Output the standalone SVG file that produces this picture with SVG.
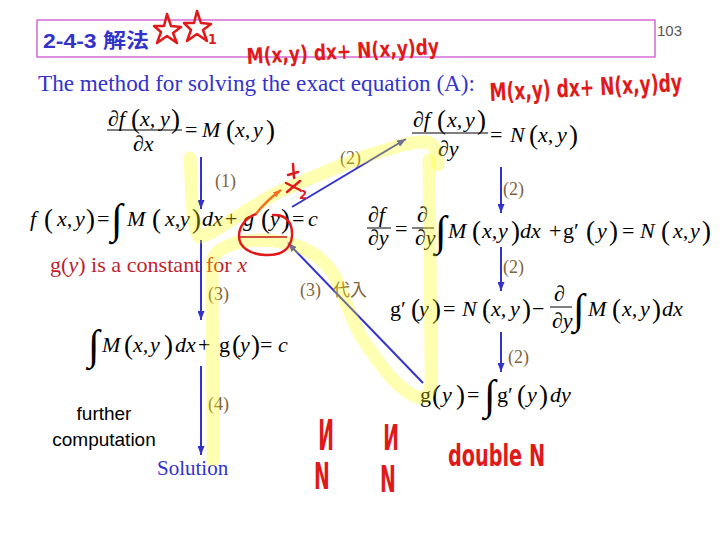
<svg xmlns="http://www.w3.org/2000/svg" width="720" height="540" viewBox="0 0 720 540">
<defs>
<marker id="ah" markerUnits="userSpaceOnUse" markerWidth="9" markerHeight="7" refX="9" refY="3.5" orient="auto"><path d="M0,0 L9,3.5 L0,7 z" fill="#3333cc"/></marker>
<marker id="ao" markerUnits="userSpaceOnUse" markerWidth="8" markerHeight="6" refX="8" refY="3" orient="auto"><path d="M0,0 L8,3 L0,6 z" fill="#f07020"/></marker>
<style>
text{font-family:"Liberation Serif",serif}
.sans{font-family:"Liberation Sans","Noto Sans CJK TC",sans-serif}
.m{font-size:22px;fill:#000}
.i{font-style:italic}
.p{font-size:27px;font-style:normal}
.int{font-size:42px;font-style:normal}
.lbl{font-size:18px;fill:#806440}
.cjk{font-family:"Noto Sans CJK TC",sans-serif}
.arr{stroke:#3333cc;stroke-width:2;fill:none;marker-end:url(#ah)}
.bar{stroke:#000;stroke-width:1}
.hw{font-family:"Liberation Sans Narrow","DejaVu Sans Condensed",sans-serif;fill:#e01a1a}
.red{stroke:#e01a1a;stroke-width:2.5;fill:none;stroke-linecap:round;stroke-linejoin:round}
.hl{stroke:#ffff00;stroke-opacity:0.3;stroke-width:13;fill:none;stroke-linecap:round;stroke-linejoin:round}
</style>
</defs>
<rect width="720" height="540" fill="#fff"/>

<g id="header">
<rect x="37" y="20" width="618" height="37" fill="none" stroke="#cc44cc" stroke-width="1.2"/>
<text class="sans" x="43" y="48" font-weight="bold" font-size="20" fill="#3333cc" textLength="106" lengthAdjust="spacingAndGlyphs">2-4-3 解法</text>
<text x="657" y="36" font-size="15" fill="#555" style="font-family:'Liberation Sans',sans-serif">103</text>
</g>

<g id="title">
<text x="38" y="91" font-size="23" fill="#3333cc" textLength="437" lengthAdjust="spacingAndGlyphs">The method for solving the exact equation (A):</text>
</g>

<g id="annotations-red">
<path class="red" d="M167,14 L171,26 L181,27 L173,33 L177,43 L167,36 L157,43 L161,32 L154,26 L164,26 Z"/>
<path class="red" d="M197,11 L201,23 L211,24 L203,30 L207,41 L197,34 L187,41 L191,30 L184,23 L194,23 Z"/>
<text class="hw" x="208" y="44" font-size="14" font-weight="bold">1</text>
<text class="hw" x="0" y="0" font-size="19" font-weight="bold" transform="translate(247,64) rotate(-3) scale(1,1.15)">M(x,y) dx+ N(x,y)dy</text>
<text class="hw" x="0" y="0" font-size="19" font-weight="bold" transform="translate(490,101) rotate(-3) scale(1,1.3)">M(x,y) dx+ N(x,y)dy</text>
<text class="hw" x="448" y="466" font-size="30" font-weight="bold" textLength="97" lengthAdjust="spacingAndGlyphs">double N</text>
<text class="hw" x="0" y="0" font-size="30" font-weight="bold" transform="translate(334,450) scale(-0.7,1.4)">N</text>
<text class="hw" x="0" y="0" font-size="30" font-weight="bold" transform="translate(314,489) scale(0.7,1.25)">N</text>
<text class="hw" x="0" y="0" font-size="30" font-weight="bold" transform="translate(399,450) scale(-0.7,1.2)">N</text>
<text class="hw" x="0" y="0" font-size="30" font-weight="bold" transform="translate(380,492) scale(0.7,1.25)">N</text>
</g>

<g id="eq-fx">
<text class="m i" x="108" y="126">∂f</text>
<text class="m p" x="131" y="128" font-size="24">(</text>
<text class="m i" x="140" y="126">x,</text>
<text class="m i" x="160" y="126">y</text>
<text class="m p" x="171" y="128" font-size="24">)</text>
<line class="bar" x1="107" y1="130" x2="182" y2="130"/>
<text class="m i" x="133" y="151">∂x</text>
<text class="m" x="185" y="137">=</text>
<text class="m i" x="202" y="137">M</text>
<text class="m p" x="226" y="139">(</text>
<text class="m i" x="235" y="137">x,</text>
<text class="m i" x="253" y="137">y</text>
<text class="m p" x="266" y="139">)</text>
</g>

<g id="eq-fy">
<text class="m i" x="413" y="127">∂f</text>
<text class="m p" x="437" y="129" font-size="24">(</text>
<text class="m i" x="447" y="127">x,</text>
<text class="m i" x="465" y="127">y</text>
<text class="m p" x="477" y="129" font-size="24">)</text>
<line class="bar" x1="412" y1="133" x2="488" y2="133"/>
<text class="m i" x="438" y="156">∂y</text>
<text class="m" x="490" y="142">=</text>
<text class="m i" x="510" y="142">N</text>
<text class="m p" x="529" y="144">(</text>
<text class="m i" x="538" y="142">x,</text>
<text class="m i" x="557" y="142">y</text>
<text class="m p" x="569" y="144">)</text>
</g>

<g id="eq-f">
<text class="m" y="226"><tspan class="i" x="30">f</tspan><tspan class="p" x="44" y="228">(</tspan><tspan class="i" x="57" y="226">x,</tspan><tspan class="i" x="75">y</tspan><tspan class="p" x="86" y="228">)</tspan><tspan x="97" y="226">=</tspan><tspan class="int" x="111" y="233">∫</tspan><tspan class="i" x="127" y="226">M</tspan><tspan class="p" x="152" y="228">(</tspan><tspan class="i" x="165" y="226">x,</tspan><tspan class="i" x="180">y</tspan><tspan class="p" x="192" y="228">)</tspan><tspan class="i" x="202" y="226">dx</tspan><tspan x="225">+</tspan><tspan class="i" x="243">g</tspan><tspan class="p" x="261" y="228">(</tspan><tspan class="i" x="270" y="226">y</tspan><tspan class="p" x="281" y="228">)</tspan><tspan x="292" y="226">=</tspan><tspan class="i" x="308">c</tspan></text>
</g>

<g id="note-const">
<text x="50" y="272" font-size="22" fill="#bf1e2e" textLength="197" lengthAdjust="spacingAndGlyphs">g(<tspan font-style="italic">y</tspan>) is a constant for <tspan font-style="italic">x</tspan></text>
</g>

<g id="eq-dfdy">
<text class="m i" x="368" y="222">∂f</text>
<line class="bar" x1="367" y1="228" x2="391" y2="228"/>
<text class="m i" x="368" y="245">∂y</text>
<text class="m" x="395" y="236">=</text>
<text class="m i" x="417" y="222">∂</text>
<line class="bar" x1="412" y1="228" x2="434" y2="228"/>
<text class="m i" x="415" y="245">∂y</text>
<text class="m" y="238"><tspan class="int" x="435" y="245">∫</tspan><tspan class="i" x="448" y="238">M</tspan><tspan class="p" x="472" y="240">(</tspan><tspan class="i" x="482" y="238">x,</tspan><tspan class="i" x="498">y</tspan><tspan class="p" x="511" y="240">)</tspan><tspan class="i" x="520" y="238">dx</tspan><tspan x="549">+</tspan><tspan x="563">g′</tspan><tspan class="p" x="586" y="240">(</tspan><tspan class="i" x="597" y="238">y</tspan><tspan class="p" x="609" y="240">)</tspan><tspan x="622" y="238">=</tspan><tspan class="i" x="640">N</tspan><tspan class="p" x="661" y="240">(</tspan><tspan class="i" x="673" y="238">x,</tspan><tspan class="i" x="690">y</tspan><tspan class="p" x="702" y="240">)</tspan></text>
</g>

<g id="eq-gprime">
<text class="m" y="316"><tspan x="390">g′</tspan><tspan class="p" x="411" y="318">(</tspan><tspan class="i" x="419" y="316">y</tspan><tspan class="p" x="432" y="318">)</tspan><tspan x="443" y="316">=</tspan><tspan class="i" x="462">N</tspan><tspan class="p" x="482" y="318">(</tspan><tspan class="i" x="491" y="316">x,</tspan><tspan class="i" x="510">y</tspan><tspan class="p" x="522" y="318">)</tspan><tspan x="532" y="316">−</tspan><tspan class="int" x="573" y="323">∫</tspan><tspan class="i" x="588" y="316">M</tspan><tspan class="p" x="612" y="318">(</tspan><tspan class="i" x="622" y="316">x,</tspan><tspan class="i" x="640">y</tspan><tspan class="p" x="652" y="318">)</tspan><tspan class="i" x="662" y="316">dx</tspan></text>
<text class="m i" x="554" y="301">∂</text>
<line class="bar" x1="550" y1="307" x2="572" y2="307"/>
<text class="m i" x="552" y="328">∂y</text>
</g>

<g id="eq-g">
<text class="m" y="402"><tspan x="420">g</tspan><tspan class="p" x="432" y="404">(</tspan><tspan class="i" x="442" y="402">y</tspan><tspan class="p" x="456" y="404">)</tspan><tspan x="467" y="402">=</tspan><tspan class="int" x="484" y="409">∫</tspan><tspan x="497" y="402">g′</tspan><tspan class="p" x="517" y="404">(</tspan><tspan class="i" x="527" y="402">y</tspan><tspan class="p" x="539" y="404">)</tspan><tspan class="i" x="550" y="402">dy</tspan></text>
</g>

<g id="eq-int">
<text class="m" y="352"><tspan class="int" x="88" y="359">∫</tspan><tspan class="i" x="102" y="352">M</tspan><tspan class="p" x="124" y="354">(</tspan><tspan class="i" x="133" y="352">x,</tspan><tspan class="i" x="150">y</tspan><tspan class="p" x="164" y="354">)</tspan><tspan class="i" x="175" y="352">dx</tspan><tspan x="198">+</tspan><tspan x="219">g</tspan><tspan class="p" x="232" y="354">(</tspan><tspan class="i" x="240" y="352">y</tspan><tspan class="p" x="251" y="354">)</tspan><tspan x="260" y="352">=</tspan><tspan class="i" x="278">c</tspan></text>
</g>

<g id="further">
<text class="sans" x="104" y="420" font-size="19" text-anchor="middle">further</text>
<text class="sans" x="104" y="446" font-size="19" text-anchor="middle">computation</text>
</g>

<g id="solution">
<text x="157" y="475" font-size="21" fill="#3333cc">Solution</text>
</g>

<g id="labels">
<text class="lbl" x="215" y="187">(1)</text>
<text class="lbl" x="340" y="164">(2)</text>
<text class="lbl" x="503" y="195">(2)</text>
<text class="lbl" x="503" y="273">(2)</text>
<text class="lbl" x="508" y="363">(2)</text>
<text class="lbl" x="208" y="300">(3)</text>
<text class="lbl" x="300" y="296">(3) <tspan class="cjk" font-size="17" x="333">代入</tspan></text>
<text class="lbl" x="208" y="410">(4)</text>
</g>

<g id="connectors">
<line class="arr" x1="201" y1="157" x2="201" y2="209"/>
<line class="arr" x1="201" y1="240" x2="201" y2="320"/>
<line class="arr" x1="201" y1="366" x2="201" y2="455"/>
<line class="arr" x1="292" y1="207" x2="406" y2="139"/>
<line class="arr" x1="501" y1="167" x2="501" y2="213"/>
<line class="arr" x1="501" y1="247" x2="501" y2="291"/>
<line class="arr" x1="501" y1="332" x2="501" y2="372"/>
<line class="arr" x1="423" y1="383" x2="288" y2="243"/>
</g>

<g id="highlight">
<path class="hl" d="M190,158 C192,195 192,228 199,237 C215,234 250,205 283,190 C315,176 345,163 375,153 C398,146 415,141 426,142 C434,143 438,152 438,165"/>
<path class="hl" d="M213,460 L212,262 C214,248 235,240 263,240 C295,241 318,252 332,272 C343,290 350,318 362,338 C378,362 398,392 420,398 C431,398 432,385 431,360 L429,160"/>
</g>

<g id="circle-mark">
<line x1="240" y1="237" x2="287" y2="237" stroke="#c01818" stroke-width="1.5"/>
<path class="red" d="M273,215 C285,214 293,222 292,236 C291,250 280,256 265,255 C249,254 239,247 239,236 C239,226 246,218 256,214"/>
<path d="M256,214 C262,206 270,198 281,190" stroke="#f07020" stroke-width="2.5" fill="none" marker-end="url(#ao)"/>
<path class="red" d="M293,164 L294,178 M286,183 L300,190 M300,181 L287,192 M288,175 L298,172"/>
<text class="hw" x="299" y="199" font-size="13" font-weight="bold">2</text>
</g>
</svg>
